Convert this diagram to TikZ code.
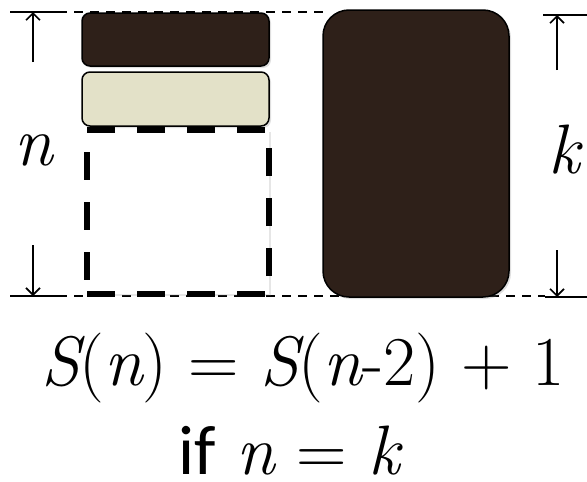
\documentclass[tikz,border=0pt]{standalone}
\usepackage{fontspec}
\newfontfamily\sansf{Carlito}
\usetikzlibrary{arrows.meta,shadows}
\definecolor{darkbrown}{HTML}{2E2019}
\definecolor{cream}{HTML}{E3E1C8}
\begin{document}
\begin{tikzpicture}[x=1pt,y=-1pt,
  blk/.style={draw=black, line width=1.5pt, inner sep=0pt, outer sep=0pt, anchor=north west,
    drop shadow={opacity=0.25, shadow xshift=2pt, shadow yshift=-2pt}},
  guide/.style={line width=1.6pt, dash pattern=on 9pt off 7pt},
  capline/.style={line width=1.6pt},
  dimarrow/.style={line width=1.6pt, -{Straight Barb[length=7pt,width=14pt,line width=1.6pt]}},
  big/.style={font=\rmfamily\fontsize{70}{70}\selectfont, inner sep=0pt, anchor=base}
]
\useasboundingbox (0,0) rectangle (587,482);

% guide lines
\draw[guide] (58,12) -- (330,12);
\draw[guide] (58,296) -- (545,296);

% boxes
\node[blk, fill=darkbrown, rounded corners=8pt, minimum width=187pt, minimum height=53pt] (topblk) at (82,13) {};
\node[blk, fill=cream, rounded corners=8pt, minimum width=187pt, minimum height=54pt] (midblk) at (82,72) {};
\node[draw=black, fill=white, line width=6pt, dash pattern=on 28pt off 22pt, inner sep=0pt, outer sep=0pt,
      anchor=north west, minimum width=182pt, minimum height=164pt,
      drop shadow={opacity=0.2, shadow xshift=2pt, shadow yshift=-2pt}] (gapblk) at (87,130) {};
\node[blk, fill=darkbrown, rounded corners=26pt, minimum width=186pt, minimum height=287pt] (bigblk) at (323,10) {};

% left dimension
\coordinate (lt) at (33,12);
\coordinate (lb) at (33,296);
\coordinate (ltf) at (33,62);
\coordinate (lbf) at (33,245);
\draw[capline] (10,12) -- (58,12);
\draw[capline] (10,296) -- (58,296);
\draw[dimarrow] (ltf) -- (lt);
\draw[dimarrow] (lbf) -- (lb);
\node[big] (nlab) at (34,165) {\itshape n};

% right dimension
\coordinate (rt) at (557,15);
\coordinate (rb) at (557,297);
\coordinate (rtf) at (557,70);
\coordinate (rbf) at (557,250);
\draw[capline] (543,15) -- (587,15);
\draw[capline] (545,297) -- (587,297);
\draw[dimarrow] (rtf) -- (rt);
\draw[dimarrow] (rbf) -- (rb);
\node[big] (klab) at (564,173) {\itshape k};

% formula
\node[big] (eq) at (303,385) {{\itshape S}({\itshape n}) = {\itshape S}({\itshape n}-2) + 1};
\node[big] (cond) at (289,474) {{\sansf if} {\itshape n} = {\itshape k}};
\end{tikzpicture}
\end{document}
